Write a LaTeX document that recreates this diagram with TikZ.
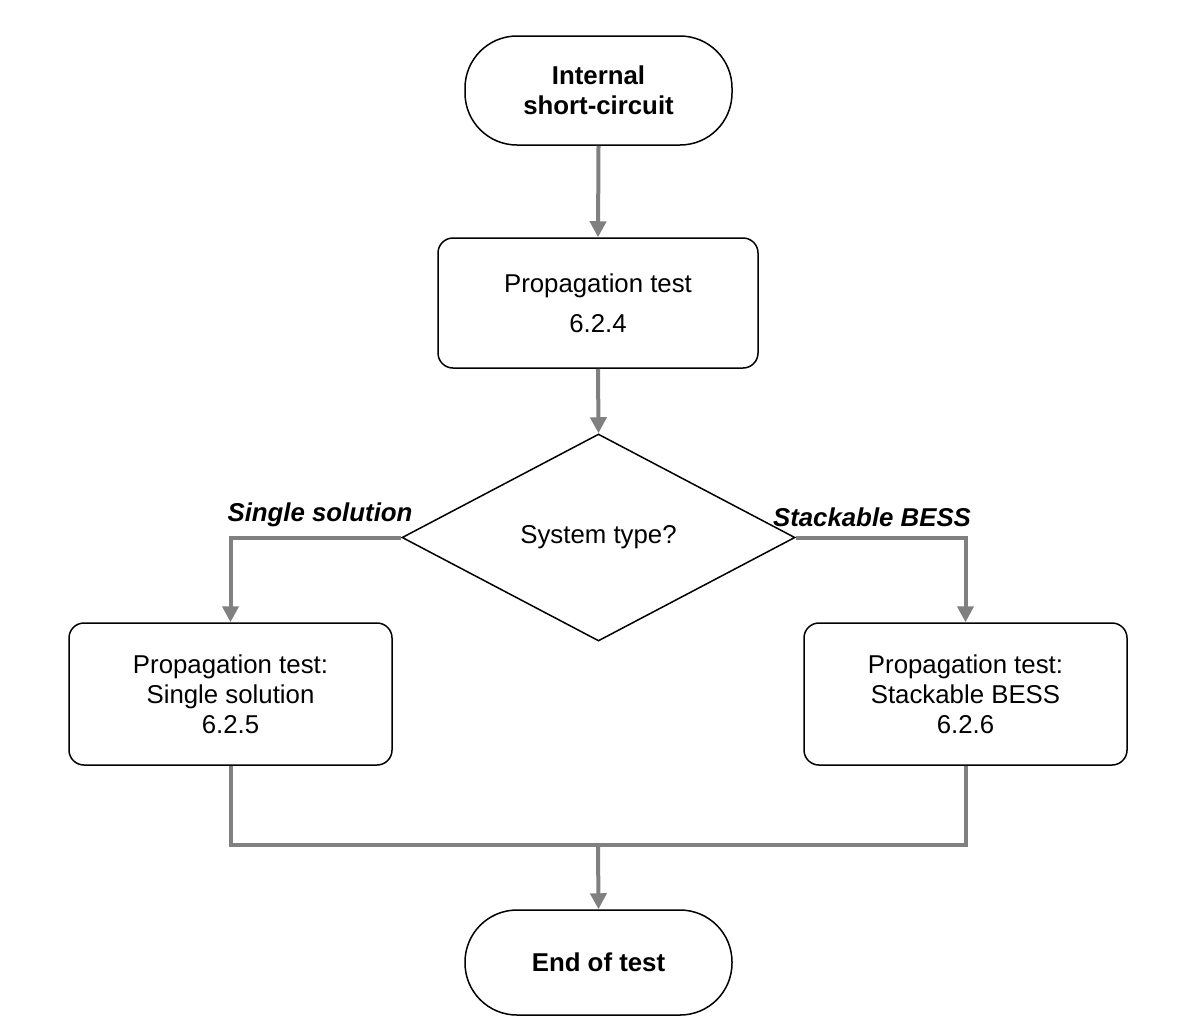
\documentclass[tikz,border=0pt]{standalone}
\usepackage{fontspec}
\setmainfont{Liberation Sans}
\usetikzlibrary{shapes.geometric,arrows.meta}
\begin{document}
\begin{tikzpicture}[x=0.5pt,y=-0.5pt,
  every node/.style={font=\fontsize{12.9pt}{15pt}\selectfont, align=center, inner sep=0pt},
  term/.style={draw=black, line width=0.75pt, fill=white, minimum width=133.5pt, rounded corners=26pt, font=\fontsize{12.9pt}{15pt}\selectfont\bfseries},
  proc/.style={draw=black, line width=0.75pt, fill=white, rounded corners=7.5pt},
  dec/.style={draw=black, line width=0.75pt, diamond, minimum width=196.5pt, minimum height=103.5pt},
  conn/.style={draw=gray, line width=2pt, line join=miter},
  arr/.style={conn, -{Triangle[width=8pt,length=8pt]}},
  lab/.style={font=\fontsize{12.9pt}{15pt}\selectfont\bfseries\itshape}
]
\useasboundingbox (0,0) rectangle (1181,1034);
\node[term, minimum height=54.5pt] (start) at (598.5,90.5) {Internal\\short-circuit};
\node[proc, minimum width=160pt, minimum height=65pt, font=\fontsize{12.9pt}{20pt}\selectfont] (p1) at (598,303) {Propagation test\\6.2.4};
\node[dec] (sys) at (598.5,537.5) {System type?};
\node[proc, minimum width=161.5pt, minimum height=71pt] (left) at (230.5,694) {Propagation test:\\Single solution\\6.2.5};
\node[proc, minimum width=161.5pt, minimum height=71pt] (right) at (965.5,694) {Propagation test:\\Stackable BESS\\6.2.6};
\node[term, minimum height=52.5pt] (end) at (598.5,962.5) {End of test};
\coordinate (join) at (598,845);
\node[lab] (lsingle) at (320,515) {Single solution};
\node[lab] (lstack) at (872,517) {Stackable BESS};

\draw[arr] (start.south) -- (p1.north);
\draw[arr] (p1.south) -- (sys.north);
\draw[arr] (sys.west) -| (left.north);
\draw[arr] (sys.east) -| (right.north);
\draw[conn] (left.south) |- (join) -| (right.south);
\draw[arr] (join) -- (end.north);
\end{tikzpicture}
\end{document}
